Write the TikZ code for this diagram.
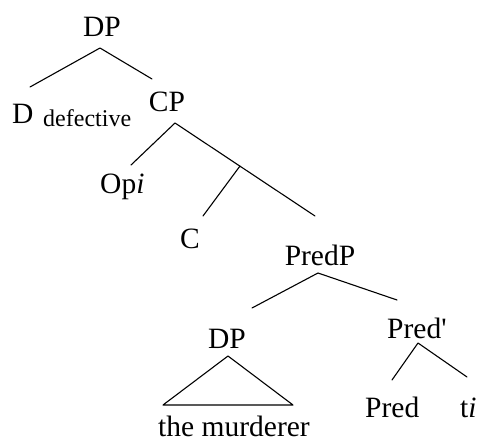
\documentclass[tikz,border=0pt]{standalone}
\usepackage{fontspec}
\setmainfont{Liberation Serif}
\begin{document}
\begin{tikzpicture}[x=1pt,y=-1pt,
  lbl/.style={inner sep=0pt,font=\fontsize{29.5}{34}\selectfont},
  sublbl/.style={inner sep=0pt,font=\fontsize{24}{28}\selectfont},
  branch/.style={line width=1.1pt,line cap=round,line join=round}]
\useasboundingbox[fill=white] (0,0) rectangle (479,441);

% labels, placed on their baselines
\node[lbl,anchor=base]      (dptop)  at (102,37)  {DP};
\node[lbl,anchor=base west] (d)      at (12,124)  {D};
\node[sublbl,anchor=base west] (def) at (43,127)  {defective};
\node[lbl,anchor=base]      (cp)     at (167,112) {CP};
\node[lbl,anchor=base west] (op)     at (100,193) {Op\textit{i}};
\node[lbl,anchor=base]      (c)      at (190,248) {C};
\node[lbl,anchor=base]      (predp)  at (320,265) {PredP};
\node[lbl,anchor=base]      (dplow)  at (227,348) {DP};
\node[lbl,anchor=base west] (predb)  at (387,338) {Pred\textquotesingle};
\node[lbl,anchor=base west] (pred)   at (365,417) {Pred};
\node[lbl,anchor=base west] (t)      at (460,417) {t\textit{i}};
\node[lbl,anchor=base]      (murd)   at (234,436) {the murderer};

% branch end points
\coordinate (dptop-b) at (100,48);
\coordinate (d-t)     at (30,87);
\coordinate (cp-t)    at (152,79);
\coordinate (cp-b)    at (175,123);
\coordinate (op-t)    at (131,165);
\coordinate (cbar)    at (240,166);
\coordinate (c-t)     at (203,216);
\coordinate (predp-t) at (315,216);
\coordinate (predp-b) at (318,273);
\coordinate (dplow-t) at (252,308);
\coordinate (predb-t) at (397,300);
\coordinate (dplow-b) at (228,356);
\coordinate (murd-l)  at (163,405);
\coordinate (murd-r)  at (293,405);
\coordinate (predb-b) at (418,343);
\coordinate (pred-t)  at (392,380);
\coordinate (t-t)     at (467,377);

% branches
\draw[branch] (d-t) -- (dptop-b) -- (cp-t);
\draw[branch] (op-t) -- (cp-b) -- (predp-t);
\draw[branch] (cbar) -- (c-t);
\draw[branch] (dplow-t) -- (predp-b) -- (predb-t);
\draw[branch] (dplow-b) -- (murd-l) -- (murd-r) -- cycle;
\draw[branch] (pred-t) -- (predb-b) -- (t-t);
\end{tikzpicture}
\end{document}
